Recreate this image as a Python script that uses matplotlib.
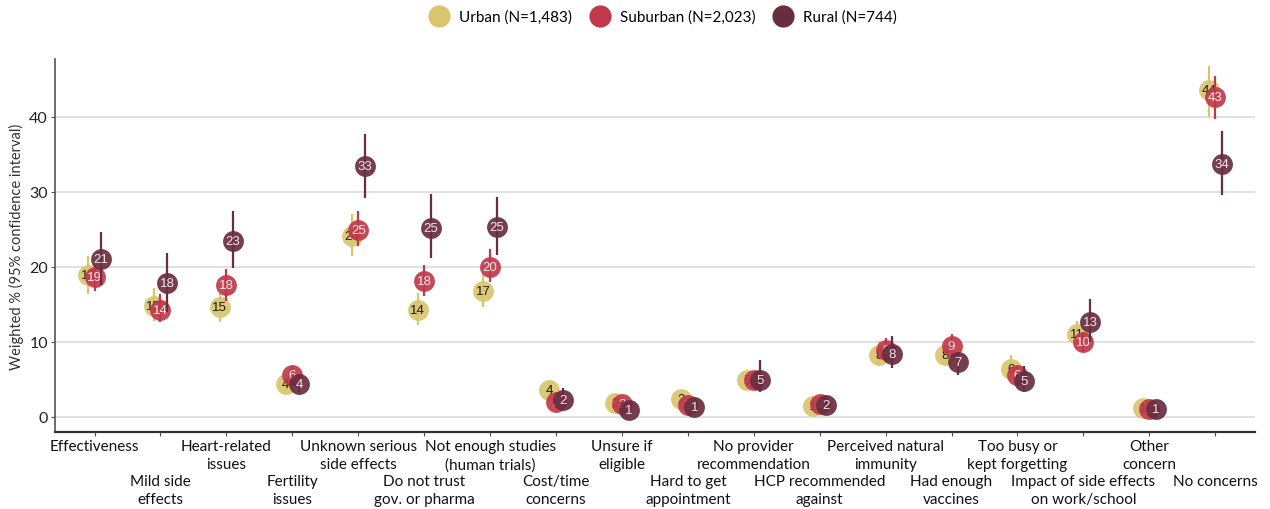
import matplotlib
matplotlib.use("Agg")
import matplotlib.pyplot as plt
from matplotlib.lines import Line2D
from matplotlib.transforms import blended_transform_factory, ScaledTranslation
import numpy as np

categories = [
    "Effectiveness", "Mild side\neffects", "Heart-related\nissues", "Fertility\nissues",
    "Unknown serious\nside effects", "Do not trust\ngov. or pharma",
    "Not enough studies\n(human trials)", "Cost/time\nconcerns", "Unsure if\neligible",
    "Hard to get\nappointment", "No provider\nrecommendation", "HCP recommended\nagainst",
    "Perceived natural\nimmunity", "Had enough\nvaccines", "Too busy or\nkept forgetting",
    "Impact of side effects\non work/school", "Other\nconcern", "No concerns",
]

urban = [18.9, 14.8, 14.6, 4.4, 24.1, 14.2, 16.8, 3.6, 1.9, 2.4, 4.9, 1.4, 8.3, 8.3, 6.4, 11.0, 1.2, 43.6]
urban_lo = [16.4, 12.8, 12.6, 3.5, 21.5, 12.3, 14.7, 2.6, 1.2, 1.7, 4.0, 0.8, 6.8, 7.0, 5.0, 9.5, 0.7, 40.0]
urban_hi = [21.5, 17.2, 16.5, 5.5, 27.1, 16.5, 19.1, 4.6, 2.6, 3.2, 6.0, 2.1, 10.1, 9.6, 8.3, 12.8, 1.8, 46.8]

suburban = [18.6, 14.3, 17.6, 5.6, 24.9, 18.1, 20.0, 2.0, 1.7, 1.6, 4.9, 1.7, 8.9, 9.4, 5.6, 10.0, 1.1, 42.7]
suburban_lo = [16.8, 12.6, 15.5, 4.5, 22.8, 16.1, 18.0, 1.3, 1.1, 1.0, 4.2, 1.1, 7.3, 8.0, 4.3, 8.7, 0.6, 39.7]
suburban_hi = [20.3, 16.4, 19.7, 6.8, 27.4, 20.3, 22.4, 2.8, 2.4, 2.3, 5.8, 2.4, 10.5, 11.0, 6.8, 11.3, 1.6, 45.5]

rural = [21.0, 17.9, 23.4, 4.4, 33.4, 25.2, 25.3, 2.2, 0.9, 1.3, 4.9, 1.6, 8.4, 7.3, 4.8, 12.6, 1.1, 33.7]
rural_lo = [17.6, 14.0, 19.9, 3.3, 29.2, 21.2, 21.6, 1.2, 0.4, 0.6, 3.3, 0.9, 6.5, 5.6, 3.3, 10.0, 0.5, 29.6]
rural_hi = [24.7, 21.9, 27.5, 5.6, 37.7, 29.7, 29.3, 3.9, 1.6, 2.1, 7.6, 2.4, 10.8, 8.7, 6.8, 15.7, 1.8, 38.1]

series_names = ["Urban (N=1,483)", "Suburban (N=2,023)", "Rural (N=744)"]
colors = ["#D9C56E", "#C0394B", "#682D3F"]
text_colors = ["#1a1a1a", "#f6e6e8", "#f3e6ea"]

fig = plt.figure(figsize=(12.7, 5.1), dpi=100)
ax = fig.add_axes([0.0433, 0.151, 0.9447, 0.731])

x = np.arange(len(categories))
offsets = [-0.1, 0.0, 0.1]
data = [(urban, urban_lo, urban_hi), (suburban, suburban_lo, suburban_hi), (rural, rural_lo, rural_hi)]

for i, (vals, lo, hi) in enumerate(data):
    vals = np.array(vals); lo = np.array(lo); hi = np.array(hi)
    xs = x + offsets[i]
    z = 3 + i * 3
    ax.vlines(xs, lo, hi, color=colors[i], lw=1.6, zorder=z)
    ax.plot(xs, vals, 'o', ms=15, color=colors[i], mec='none', alpha=0.92, zorder=z + 1)
    for xx, v in zip(xs, vals):
        ax.text(xx, v, f"{v:.0f}", ha='center', va='center', fontsize=9.5,
                color=text_colors[i], family='Liberation Sans', zorder=z + 2)

ax.set_xlim(-0.6, 17.6)
ax.set_ylim(-2, 47.7)
ax.set_yticks([0, 10, 20, 30, 40])
ax.yaxis.grid(True, color='#d9d9d9', lw=1.1)
ax.set_axisbelow(True)

# alternating category labels: even on the first row, odd shifted two lines down
ax.set_xticks(x)
ax.set_xticklabels([c if k % 2 == 0 else "" for k, c in enumerate(categories)],
                   fontsize=11, family='Lato', color='#111111', linespacing=1.38)
base = blended_transform_factory(ax.transData, ax.transAxes)
tr = base + ScaledTranslation(0, -42 / 100, fig.dpi_scale_trans)
for k, c in enumerate(categories):
    if k % 2 == 1:
        ax.text(x[k], 0, c, transform=tr, ha='center', va='top', fontsize=11,
                family='Lato', color='#111111', linespacing=1.38, multialignment='center')

ax.tick_params(axis='x', length=3, pad=2, color='#555555')
ax.tick_params(axis='y', length=3, pad=2, labelsize=11.5, color='#555555', labelcolor='#222222')
for lab in ax.get_yticklabels():
    lab.set_family('Lato')

for s in ['top', 'right']:
    ax.spines[s].set_visible(False)
ax.spines['left'].set_color('#555555')
ax.spines['left'].set_linewidth(1.2)
ax.spines['bottom'].set_color('#333333')
ax.spines['bottom'].set_linewidth(1.6)

ax.set_ylabel("Weighted % (95% confidence interval)", fontsize=10.5, family='Lato', color='#333333', labelpad=4)

handles = [Line2D([], [], marker='o', ls='none', ms=16, color=c, mec='none') for c in colors]
fig.legend(handles, series_names, loc='center', bbox_to_anchor=(0.52, 0.965), ncol=3, frameon=False,
           prop={'family': 'Lato', 'size': 11}, handletextpad=0.3, columnspacing=0.8)

fig.savefig("out.png", dpi=100)
